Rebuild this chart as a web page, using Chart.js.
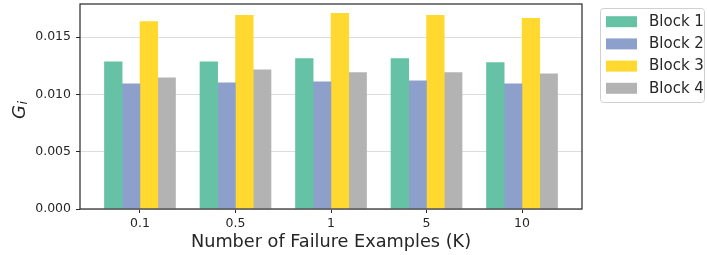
<!DOCTYPE html>
<html>
<head>
  <meta charset="UTF-8">
  <title>Gi by block</title>
  <script src="https://cdn.jsdelivr.net/npm/chart.js"></script>
  <style>
    html, body { margin: 0; padding: 0; background: #fff; }
    #wrap { width: 707px; height: 255px; }
  </style>
</head>
<body>
  <div id="wrap"><canvas id="chart" width="707" height="255"></canvas></div>

  <script>
    // data
    const categories = ['0.1', '0.5', '1', '5', '10'];
    const seriesNames = ['Block 1', 'Block 2', 'Block 3', 'Block 4'];
    const block1 = [0.01289, 0.01289, 0.01316, 0.01316, 0.01281];
    const block2 = [0.01096, 0.01105, 0.01114, 0.01123, 0.01096];
    const block3 = [0.01640, 0.01693, 0.01711, 0.01693, 0.01667];
    const block4 = [0.01149, 0.01219, 0.01193, 0.01193, 0.01184];
    const yTicks = [0, 0.005, 0.010, 0.015];
    const colors = ['#66c2a5', '#8da0cb', '#ffd92f', '#b3b3b3'];

    const ink = '#262626';
    const font = 'DejaVu Sans';

    const datasets = [block1, block2, block3, block4].map((vals, k) => ({
      label: seriesNames[k],
      data: vals.map((v, i) => ({ x: i, y: v })),
      backgroundColor: colors[k],
      borderWidth: 0,
      categoryPercentage: 0.745,
      barPercentage: 1.03   // slight overlap so no light seams between bars
    }));

    // frame, y title and legend box, drawn like the matplotlib figure
    const extras = {
      id: 'extras',
      afterDraw(chart) {
        const ctx = chart.ctx;
        const a = chart.chartArea;
        ctx.save();
        ctx.strokeStyle = ink;
        ctx.lineWidth = 1.2;
        ctx.strokeRect(a.left, a.top, a.right - a.left, a.bottom - a.top);

        // y title: italic G with subscript i
        ctx.translate(20, 110);
        ctx.rotate(-Math.PI / 2);
        ctx.fillStyle = ink;
        ctx.textBaseline = 'middle';
        ctx.textAlign = 'left';
        ctx.font = 'italic 18px "' + font + '"';
        const gw = ctx.measureText('G').width;
        ctx.fillText('G', -9, 0);
        ctx.font = 'italic 12.5px "' + font + '"';
        ctx.fillText('i', -9 + gw + 0.5, 4);
        ctx.restore();

        // legend
        ctx.save();
        const bx = 600.5, by = 8.5, bw = 104, bh = 94;
        ctx.beginPath();
        ctx.roundRect(bx, by, bw, bh, 3);
        ctx.fillStyle = 'rgba(255,255,255,0.8)';
        ctx.fill();
        ctx.strokeStyle = '#d0d0d0';
        ctx.lineWidth = 1;
        ctx.stroke();
        ctx.font = '15px "' + font + '"';
        ctx.textBaseline = 'middle';
        ctx.textAlign = 'left';
        chart.data.datasets.forEach((ds, k) => {
          const cy = 21.7 + k * 22.2;
          ctx.fillStyle = ds.backgroundColor;
          ctx.fillRect(606, cy - 5.5, 31, 11);
          ctx.fillStyle = ink;
          ctx.fillText(ds.label, 649, cy + 0.5);
        });
        ctx.restore();
      }
    };

    new Chart(document.getElementById('chart'), {
      type: 'bar',
      data: { datasets },
      options: {
        responsive: false,
        animation: false,
        devicePixelRatio: 1,
        layout: { padding: { left: 0, right: 125, top: 4, bottom: 0 } },
        plugins: {
          legend: { display: false },
          tooltip: { enabled: false }
        },
        scales: {
          x: {
            type: 'linear',
            offset: false,
            min: -0.628,
            max: 4.628,
            afterBuildTicks: s => { s.ticks = categories.map((c, i) => ({ value: i })); },
            afterFit: s => { s.height = 46; s.paddingLeft = 0; s.paddingRight = 0; },
            ticks: {
              callback: v => categories[v],
              color: ink,
              font: { family: font, size: 12.5 },
              padding: 3,
              maxRotation: 0,
              autoSkip: false
            },
            grid: { offset: false, color: 'rgba(0,0,0,0)', tickColor: ink, tickLength: 4, drawOnChartArea: false },
            border: { display: false },
            title: {
              display: true,
              text: 'Number of Failure Examples (K)',
              color: ink,
              font: { family: font, size: 17.7 },
              padding: { top: 0, bottom: 2 }
            }
          },
          y: {
            min: 0,
            max: 0.0179,
            afterBuildTicks: s => { s.ticks = yTicks.map(v => ({ value: v })); },
            afterFit: s => { s.width = 80; s.paddingTop = 0; s.paddingBottom = 0; },
            ticks: {
              callback: v => v.toFixed(3),
              color: ink,
              font: { family: font, size: 12.5 },
              padding: 5
            },
            grid: { color: '#dddddd', lineWidth: 1, tickColor: ink, tickLength: 4 },
            border: { display: false }
          }
        }
      },
      plugins: [extras]
    });
  </script>
</body>
</html>
